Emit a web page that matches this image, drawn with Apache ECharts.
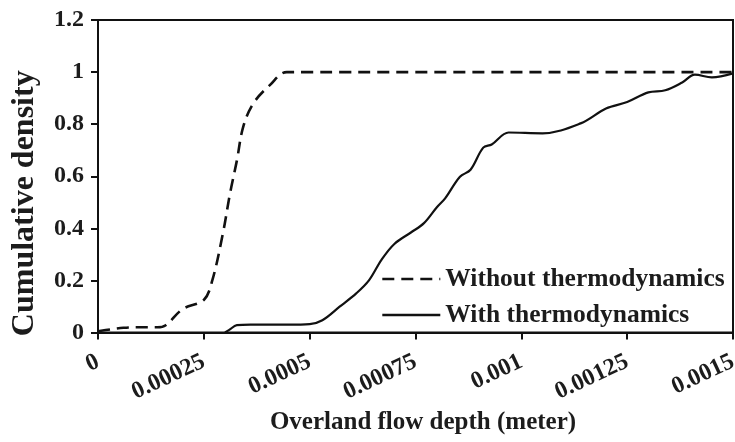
<!DOCTYPE html>
<html>
<head>
<meta charset="utf-8">
<script src="https://cdn.jsdelivr.net/npm/echarts@6/dist/echarts.min.js"></script>
<style>
html,body{margin:0;padding:0;background:#fff;}
#chart{width:735px;height:442px;}
</style>
</head>
<body>
<div id="chart"></div>
<script>
// ---- data ----
var xTickLabels = ['0', '0.00025', '0.0005', '0.00075', '0.001', '0.00125', '0.0015'];
var yTickLabels = ['0', '0.2', '0.4', '0.6', '0.8', '1', '1.2'];

var withoutX = [0, 0.00003, 0.00006, 0.0001, 0.00014, 0.00016, 0.0002, 0.00025, 0.00027, 0.000295, 0.000312, 0.000328, 0.000343, 0.000367, 0.000406, 0.000446, 0.0015];
var withoutY = [0.005, 0.012, 0.018, 0.02, 0.02, 0.028, 0.09, 0.125, 0.2, 0.38, 0.535, 0.66, 0.79, 0.88, 0.95, 1.0, 1.0];

var withX = [0.0003, 0.00031, 0.000328, 0.00036, 0.00045, 0.0005, 0.00053, 0.00057, 0.00061, 0.00064, 0.00067, 0.0007, 0.00074, 0.00077, 0.0008, 0.00082, 0.000855, 0.00088, 0.00091, 0.00093, 0.00097, 0.00105, 0.00114, 0.0012, 0.00125, 0.0013, 0.00134, 0.00138, 0.00141, 0.00145, 0.0015];
var withY = [0, 0.01, 0.028, 0.03, 0.03, 0.032, 0.047, 0.098, 0.15, 0.2, 0.28, 0.34, 0.385, 0.42, 0.48, 0.515, 0.598, 0.625, 0.71, 0.722, 0.768, 0.765, 0.803, 0.86, 0.885, 0.922, 0.93, 0.96, 0.99, 0.98, 0.995];

var seriesNames = ['Without thermodynamics', 'With thermodynamics'];

function zip(xs, ys) { return xs.map(function (x, i) { return [x, ys[i]]; }); }

var FONT = '"Liberation Serif", "Times New Roman", serif';
var TXT = '#1c1c1c';

var chart = echarts.init(document.getElementById('chart'), null, {renderer: 'canvas'});
chart.setOption({
  animation: false,
  backgroundColor: '#fff',
  grid: {
    left: 98, right: 2, top: 20, bottom: 109.5,
    containLabel: false, outerBoundsMode: 'none',
    show: true, borderColor: '#111', borderWidth: 2, backgroundColor: 'transparent'
  },
  legend: {
    show: true,
    orient: 'vertical',
    left: 381, top: 266, padding: 0,
    itemWidth: 58, itemHeight: 14, itemGap: 10,
    data: seriesNames,
    itemStyle: { color: 'rgba(0,0,0,0)', borderWidth: 0 },
    lineStyle: { width: 2.6 },
    textStyle: { fontFamily: FONT, fontWeight: 'bold', fontSize: 25.5, color: TXT }
  },
  xAxis: {
    type: 'value', min: 0, max: 0.0015, interval: 0.00025,
    name: 'Overland flow depth (meter)', nameLocation: 'middle', nameGap: 78,
    nameTextStyle: { fontFamily: FONT, fontWeight: 'bold', fontSize: 25, color: TXT, padding: [0, 0, 0, 15] },
    axisLine: { show: true, onZero: false, lineStyle: { color: '#111', width: 2 } },
    axisTick: { show: true, inside: false, length: 7, lineStyle: { color: '#111', width: 2 } },
    splitLine: { show: false },
    axisLabel: {
      rotate: 25, margin: 28,
      fontFamily: FONT, fontWeight: 'bold', fontSize: 24, color: TXT,
      formatter: function (v) { return xTickLabels[Math.round(v / 0.00025)]; }
    }
  },
  yAxis: {
    type: 'value', min: 0, max: 1.2, interval: 0.2,
    name: 'Cumulative density', nameLocation: 'middle', nameGap: 57,
    nameTextStyle: { fontFamily: FONT, fontWeight: 'bold', fontSize: 32, color: TXT, padding: [0, 54, 0, 0] },
    axisLine: { show: true, lineStyle: { color: '#111', width: 2 } },
    axisTick: { show: true, inside: false, length: 7, lineStyle: { color: '#111', width: 2 } },
    splitLine: { show: false },
    axisLabel: {
      margin: 14,
      fontFamily: FONT, fontWeight: 'bold', fontSize: 24, color: TXT,
      formatter: function (v) { return yTickLabels[Math.round(v / 0.2)]; }
    }
  },
  series: [
    {
      name: seriesNames[0], type: 'line', data: zip(withoutX, withoutY),
      smooth: 0.35, symbol: 'none', showSymbol: false,
      itemStyle: { color: '#111' },
      lineStyle: { color: '#111', width: 2.6, type: [12, 7] }
    },
    {
      name: seriesNames[1], type: 'line', data: zip(withX, withY),
      smooth: 0.35, symbol: 'none', showSymbol: false,
      itemStyle: { color: '#111' },
      lineStyle: { color: '#111', width: 2.2, type: 'solid' }
    }
  ]
});
</script>
</body>
</html>
